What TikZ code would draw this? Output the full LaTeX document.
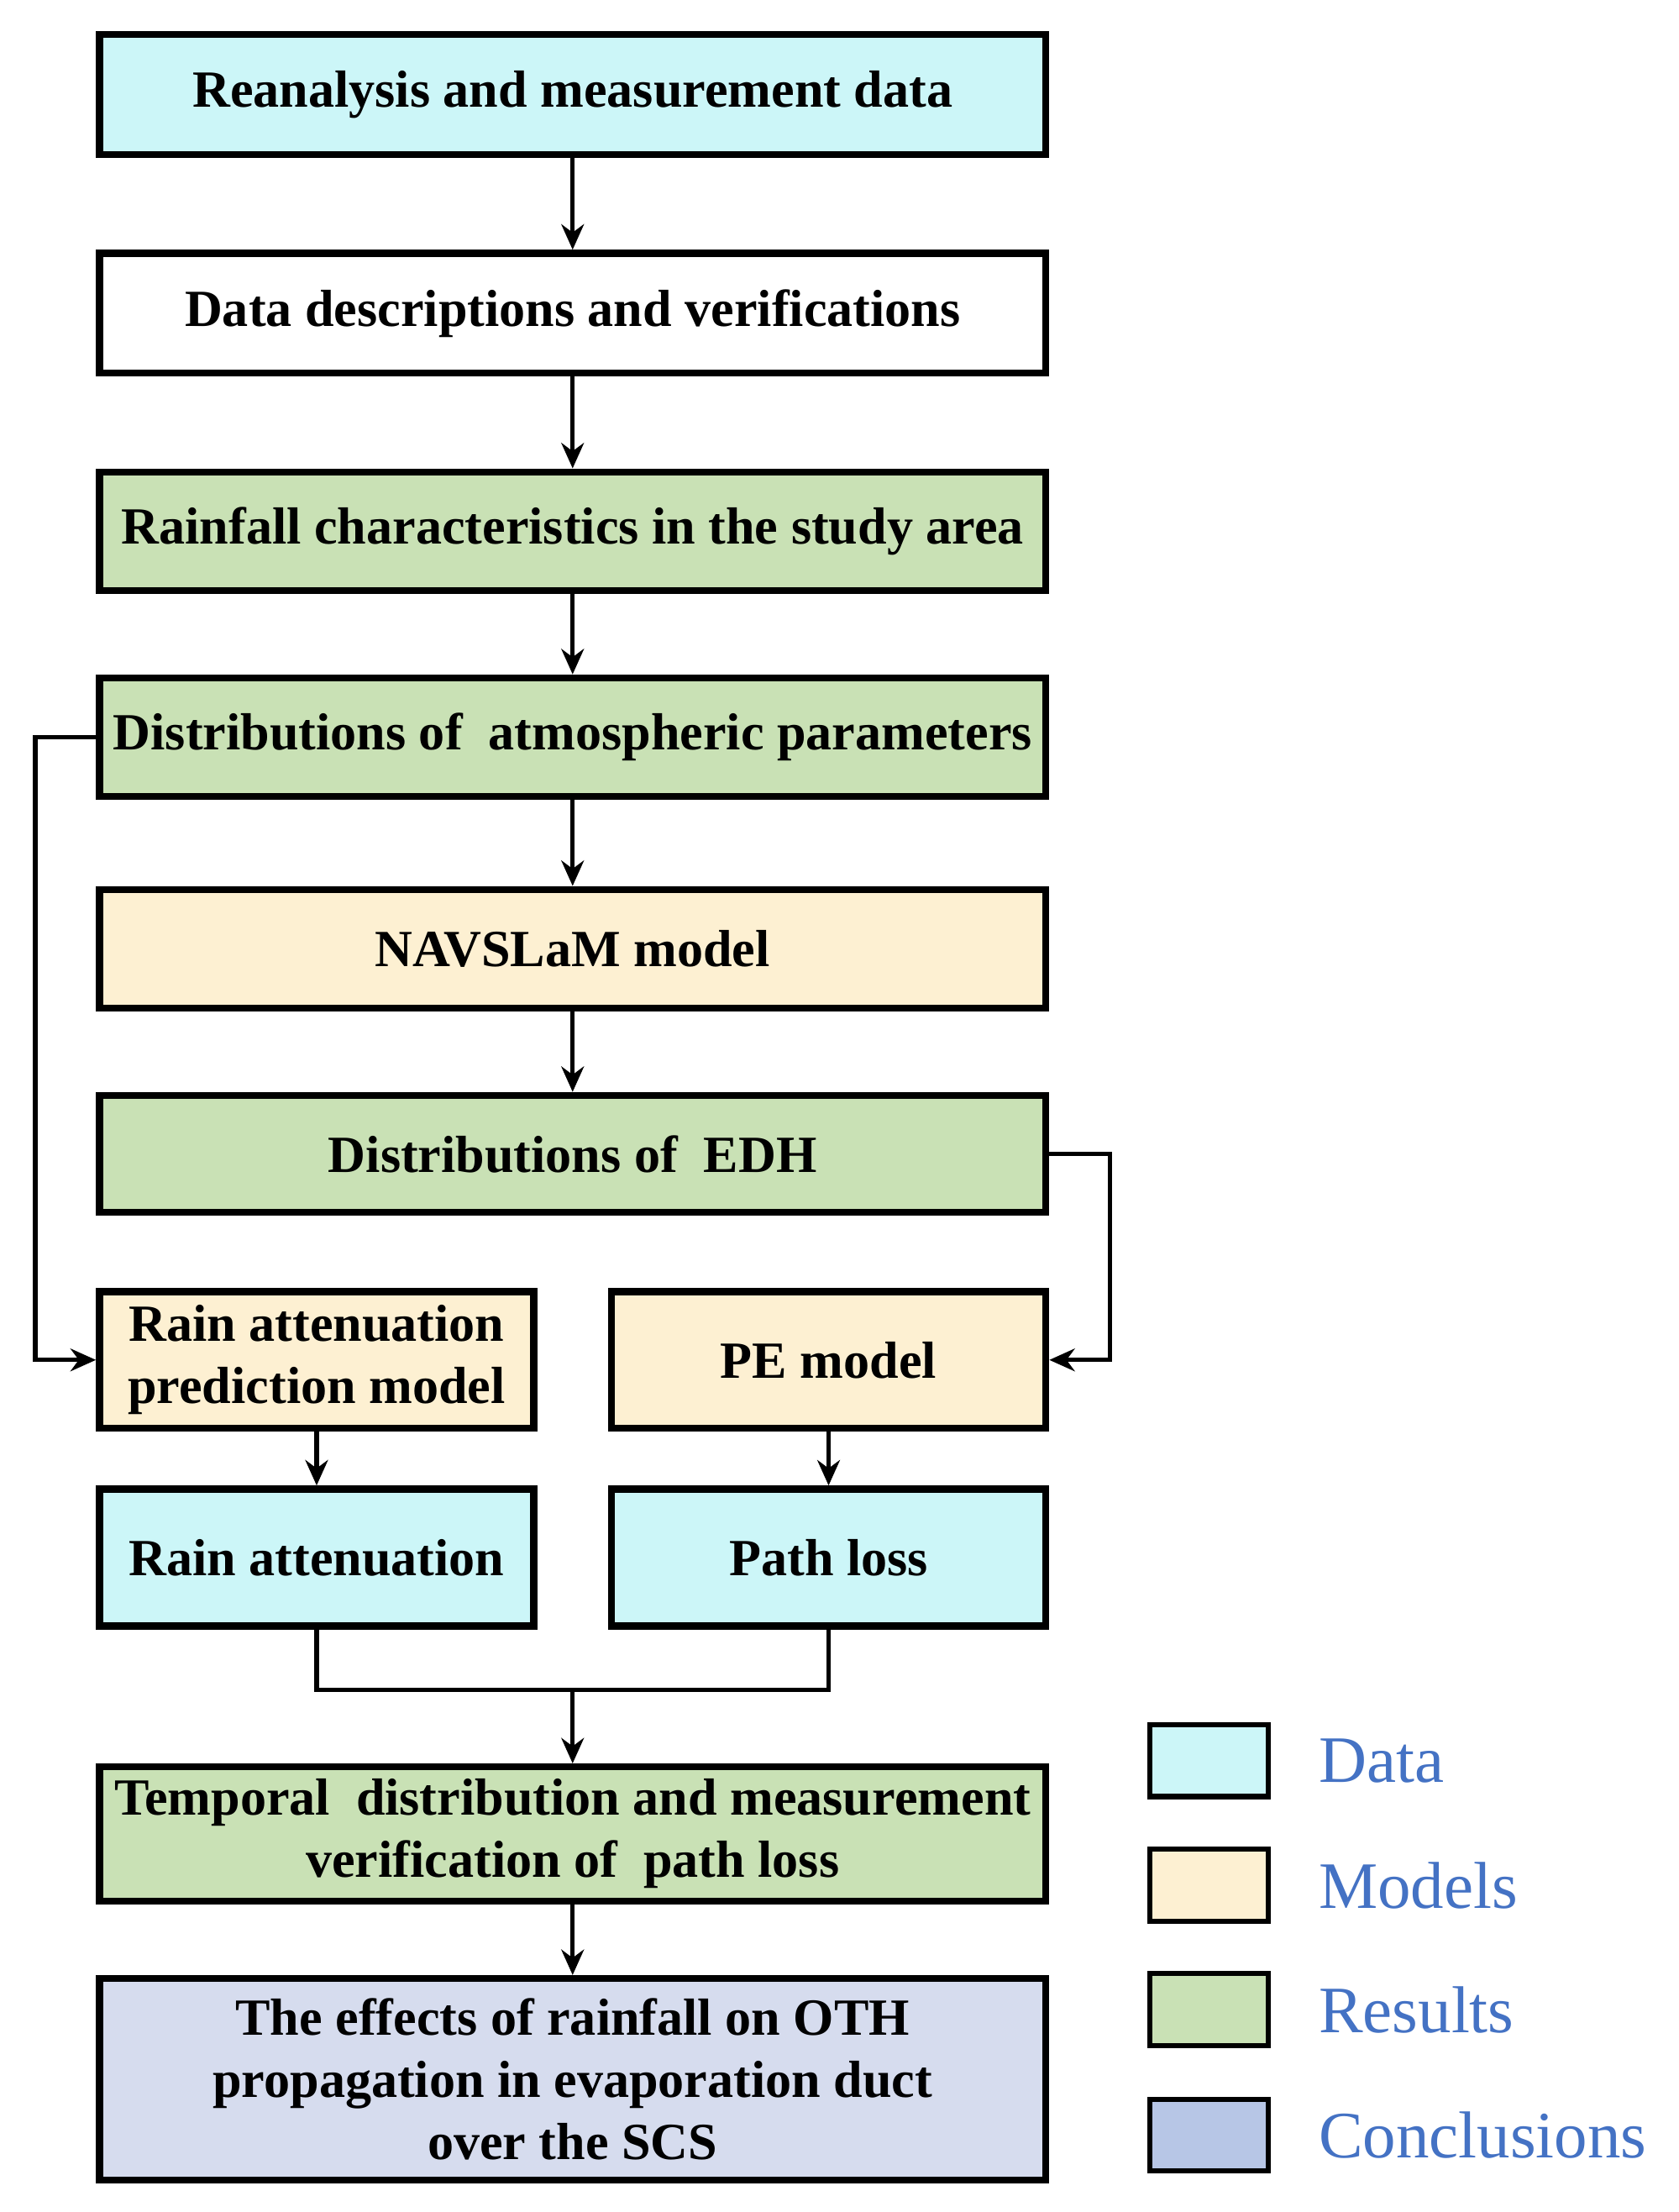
\documentclass[tikz,border=0pt]{standalone}
\usepackage{fontspec}
\setmainfont{Liberation Serif}
\usetikzlibrary{arrows.meta}
\definecolor{cdata}{HTML}{CCF6F8}
\definecolor{cmodel}{HTML}{FDF0D2}
\definecolor{cres}{HTML}{C9E1B5}
\definecolor{cconc}{HTML}{D6DCEE}
\definecolor{cconcL}{HTML}{B7C6E6}
\definecolor{ltext}{HTML}{4472C4}
\begin{document}
\begin{tikzpicture}[x=0.5pt,y=-0.5pt,
  box/.style={draw=black,line width=2.5pt,inner sep=0pt,font=\fontsize{18.5}{22}\selectfont\bfseries,align=center},
  arr/.style={line width=1.6pt,-{Stealth[length=9pt,width=8pt]}},
  ln/.style={line width=1.6pt},
  leg/.style={draw=black,line width=1.8pt,minimum width=42pt,minimum height=25.5pt,inner sep=0pt},
  legt/.style={anchor=west,font=\fontsize{23.5}{26}\selectfont,text=ltext}]
\useasboundingbox (0,0) rectangle (1190,1568);
\fill[white] (0,0) rectangle (1190,1568);
\def\bx#1#2#3#4#5#6#7{\node[box,fill=#6,minimum width=#3*0.5pt-2.5pt,minimum height=#4*0.5pt-2.5pt] (#1) at (#2,#5) {#7};}
\bx{b1}{406}{676}{90}{67}{cdata}{Reanalysis and measurement data}
\bx{b2}{406}{676}{90}{222}{white}{Data descriptions and verifications}
\bx{b3}{406}{676}{89}{376.5}{cres}{Rainfall characteristics in the study area}
\bx{b4}{406}{676}{89}{522.5}{cres}{Distributions of \ atmospheric parameters}
\bx{b5}{406}{676}{89}{672.5}{cmodel}{NAVSLaM model}
\bx{b6}{406}{676}{88}{818}{cres}{Distributions of \ EDH}
\bx{b7a}{224.5}{313}{102}{964}{cmodel}{Rain attenuation\\prediction model}
\bx{b7b}{587.5}{313}{102}{964}{cmodel}{PE model}
\bx{b8a}{224.5}{313}{102}{1104}{cdata}{Rain attenuation}
\bx{b8b}{587.5}{313}{102}{1104}{cdata}{Path loss}
\bx{b9}{406}{676}{100}{1300}{cres}{Temporal \ distribution and measurement\\verification of \ path loss}
\bx{b10}{406}{676}{148}{1474}{cconc}{The effects of rainfall on OTH\\propagation in evaporation duct\\over the SCS}
\draw[arr] (b1) -- (b2);
\draw[arr] (b2) -- (b3);
\draw[arr] (b3) -- (b4);
\draw[arr] (b4) -- (b5);
\draw[arr] (b5) -- (b6);
\draw[arr] (b4.west) -- (25,522.5) -- (25,964) -- (b7a.west);
\draw[arr] (b6.east) -- (787,818) -- (787,964) -- (b7b.east);
\draw[arr] (b7a) -- (b8a);
\draw[arr] (b7b) -- (b8b);
\coordinate (m) at (406,1198);
\draw[ln] (b8a.south) -- (224.5,1198) -- (587.5,1198) -- (b8b.south);
\draw[arr] (m) -- (b9);
\draw[arr] (b9) -- (b10);
\node[leg,fill=cdata] (l1) at (857,1248) {};
\node[leg,fill=cmodel] (l2) at (857,1336.5) {};
\node[leg,fill=cres] (l3) at (857,1424.5) {};
\node[leg,fill=cconcL] (l4) at (857,1513.5) {};
\node[legt] (t1) at (928,1248) {Data};
\node[legt] (t2) at (928,1336.5) {Models};
\node[legt] (t3) at (928,1424.5) {Results};
\node[legt] (t4) at (928,1513.5) {Conclusions};
\end{tikzpicture}
\end{document}
